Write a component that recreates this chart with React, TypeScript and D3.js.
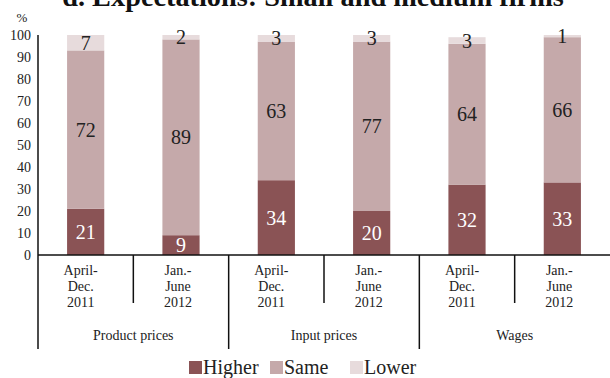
import React from "react";
import * as d3 from "d3";

const groups = ["Product prices", "Input prices", "Wages"];
const periods = [["April-", "Dec.", "2011"], ["Jan.-", "June", "2012"]];
const series = ["Higher", "Same", "Lower"];
const higher = [21, 9, 34, 20, 32, 33];
const same = [72, 89, 63, 77, 64, 66];
const lower = [7, 2, 3, 3, 3, 1];
const yTicks = [0, 10, 20, 30, 40, 50, 60, 70, 80, 90, 100];
const colors = ["#8a5355", "#c5a9aa", "#e7dbdc"];
const textColors = ["#ffffff", "#222222", "#222222"];

const W = 610, H = 378;
const left = 38, right = 610, top = 35, base = 255;
const font = "'Liberation Serif', 'Times New Roman', serif";

export default function App() {
  const cats = d3.range(6);
  const x = d3.scaleBand<number>().domain(cats).range([left, right]).paddingInner(0.61).paddingOuter(0.305);
  const y = d3.scaleLinear().domain([0, 100]).range([base, top]);
  const vals = [higher, same, lower];
  const catW = (right - left) / 6;
  return (
    <svg width={W} height={H} style={{ position: "absolute", left: 0, top: 0, background: "#fff" }}>
      <text x={313} y={6} textAnchor="middle" fontFamily={font} fontWeight="bold" fontSize={28.3} fill="#111">
        d. Expectations: Small and medium firms
      </text>
      <text x={22} y={22} textAnchor="middle" fontFamily={font} fontSize={13} fill="#222">%</text>
      {yTicks.map((t) => (
        <text key={t} x={31} y={y(t) + 4.5} textAnchor="end" fontFamily={font} fontSize={14} fill="#222">{t}</text>
      ))}
      {cats.map((i) => {
        let acc = 0;
        return (
          <g key={i}>
            {vals.map((arr, s) => {
              const v = arr[i];
              const y0 = acc, y1 = acc + v;
              acc = y1;
              return (
                <g key={s}>
                  <rect x={x(i)} y={y(y1)} width={x.bandwidth()} height={y(y0) - y(y1)} fill={colors[s]} />
                  <text x={x(i)! + x.bandwidth() / 2} y={y((y0 + y1) / 2) + 7} textAnchor="middle"
                    fontFamily={font} fontSize={20} fill={textColors[s]}>{v}</text>
                </g>
              );
            })}
          </g>
        );
      })}
      <line x1={left} x2={left} y1={top} y2={349} stroke="#111" strokeWidth={1.5} />
      <line x1={left} x2={right} y1={base} y2={base} stroke="#111" strokeWidth={1.5} />
      {cats.map((i) => {
        const xc = x(i)! + x.bandwidth() / 2;
        const p = periods[i % 2];
        return (
          <g key={"l" + i}>
            {p.map((s, k) => (
              <text key={k} x={xc + (i % 2 === 0 ? -5 : -3)} y={275 + k * 16} textAnchor="middle" fontFamily={font} fontSize={14} fill="#222">{s}</text>
            ))}
          </g>
        );
      })}
      {[1, 3, 5].map((i) => {
        const xd = left + i * catW;
        return <line key={"d" + i} x1={xd} x2={xd} y1={base} y2={303} stroke="#111" strokeWidth={1.5} />;
      })}
      {[2, 4].map((i) => {
        const xd = left + i * catW;
        return <line key={"g" + i} x1={xd} x2={xd} y1={base} y2={349} stroke="#111" strokeWidth={1.5} />;
      })}
      {groups.map((g, j) => (
        <text key={g} x={left + (j * 2 + 1) * catW} y={340} textAnchor="middle" fontFamily={font} fontSize={14} fill="#222">{g}</text>
      ))}
      {series.map((s, k) => {
        const lx = [189, 270, 350][k];
        return (
          <g key={s}>
            <rect x={lx} y={361} width={13} height={13} fill={colors[k]} />
            <text x={lx + 14} y={374} fontFamily={font} fontSize={20} fill="#222">{s}</text>
          </g>
        );
      })}
    </svg>
  );
}
